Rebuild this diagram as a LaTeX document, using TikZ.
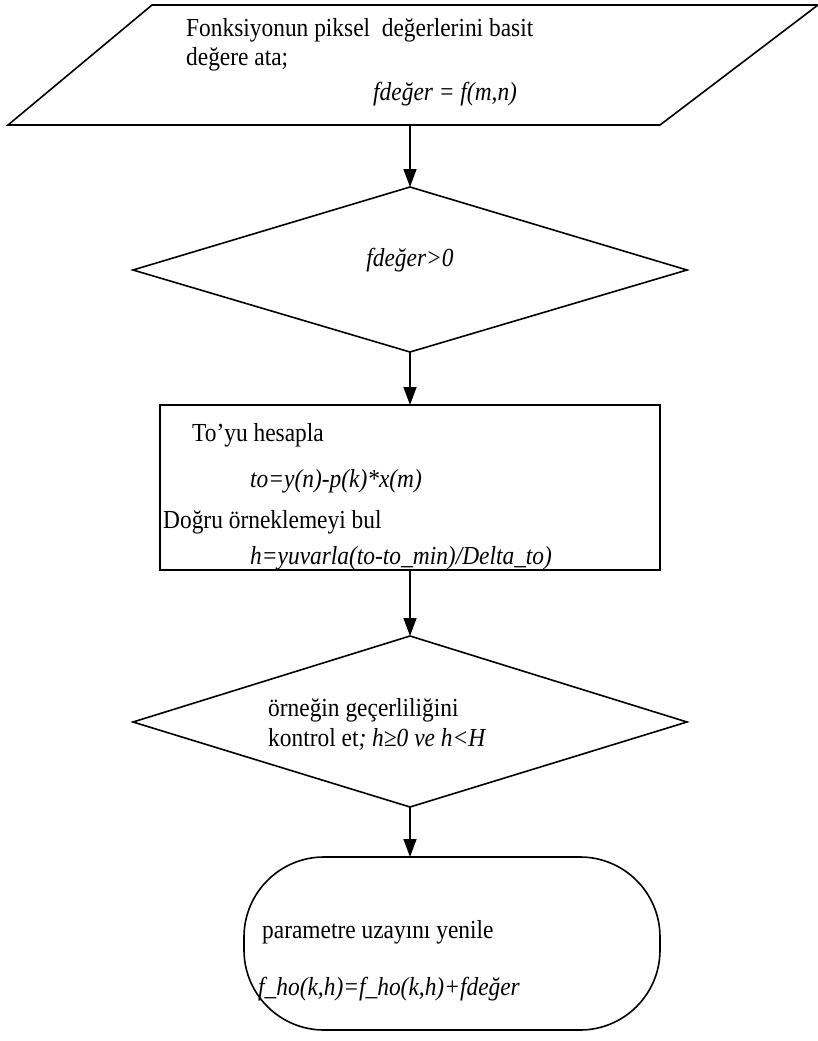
\documentclass[tikz,border=0pt]{standalone}
\usepackage{fontspec}
\setmainfont{Liberation Serif}[FakeStretch=0.9]
\usetikzlibrary{arrows.meta}
\begin{document}
\begin{tikzpicture}[x=1pt,y=-1pt,
  shp/.style={draw=black, line width=1.6pt, line join=miter},
  conn/.style={draw=black, line width=1.4pt, -{Triangle[length=18pt,width=13pt]}},
  txt/.style={anchor=base west, inner sep=0pt, font=\fontsize{26}{30}\selectfont},
  ctxt/.style={anchor=base, inner sep=0pt, font=\fontsize{26}{30}\selectfont}]
\useasboundingbox (0,0) rectangle (818,1041);
% input parallelogram
\coordinate (pTL) at (152,5);
\coordinate (pTR) at (818,5);
\coordinate (pBR) at (660,125);
\coordinate (pBL) at (8,125);
\coordinate (pB) at (410,125);
\draw[shp] (pTL) -- (pTR) -- (pBR) -- (pBL) -- cycle;
\node[txt] (t1) at (186,37) {Fonksiyonun piksel \ değerlerini basit};
\node[txt] (t2) at (186,66) {değere ata;};
\node[txt] (t3) at (373,100) {\itshape fdeğer = f(m,n)};
% decision 1
\coordinate (d1T) at (410,187);
\coordinate (d1R) at (687,270);
\coordinate (d1B) at (410,352);
\coordinate (d1L) at (133,270);
\draw[shp] (d1T) -- (d1R) -- (d1B) -- (d1L) -- cycle;
\node[ctxt] (t4) at (410,266) {\itshape fdeğer>0};
% process box
\coordinate (rTL) at (160,405);
\coordinate (rBR) at (660,570);
\coordinate (rT) at (410,405);
\coordinate (rB) at (410,570);
\draw[shp] (rTL) rectangle (rBR);
\node[txt] (t5) at (192,441) {To’yu hesapla};
\node[txt] (t6) at (250,487) {\itshape to=y(n)-p(k)*x(m)};
\node[txt] (t7) at (163,528) {Doğru örneklemeyi bul};
\node[txt] (t8) at (250,564) {\itshape h=yuvarla(to-to\_min)/Delta\_to)};
% decision 2
\coordinate (d2T) at (410,636);
\coordinate (d2R) at (687,722);
\coordinate (d2B) at (410,807);
\coordinate (d2L) at (133,722);
\draw[shp] (d2T) -- (d2R) -- (d2B) -- (d2L) -- cycle;
\node[txt] (t9) at (268,716) {örneğin geçerliliğini};
\node[txt] (t10) at (268,746) {kontrol et\textit{; h≥0 ve h<H}};
% terminal
\coordinate (eTL) at (244,857);
\coordinate (eBR) at (660,1030);
\coordinate (eT) at (410,857);
\draw[shp, rounded corners=80pt] (eTL) rectangle (eBR);
\node[txt] (t11) at (262,938) {parametre uzayını yenile};
\node[txt] (t12) at (258,995) {\itshape f\_ho(k,h)=f\_ho(k,h)+fdeğer};
% connectors
\draw[conn] (pB) -- (d1T);
\draw[conn] (d1B) -- (rT);
\draw[conn] (rB) -- (d2T);
\draw[conn] (d2B) -- (eT);
\end{tikzpicture}
\end{document}
